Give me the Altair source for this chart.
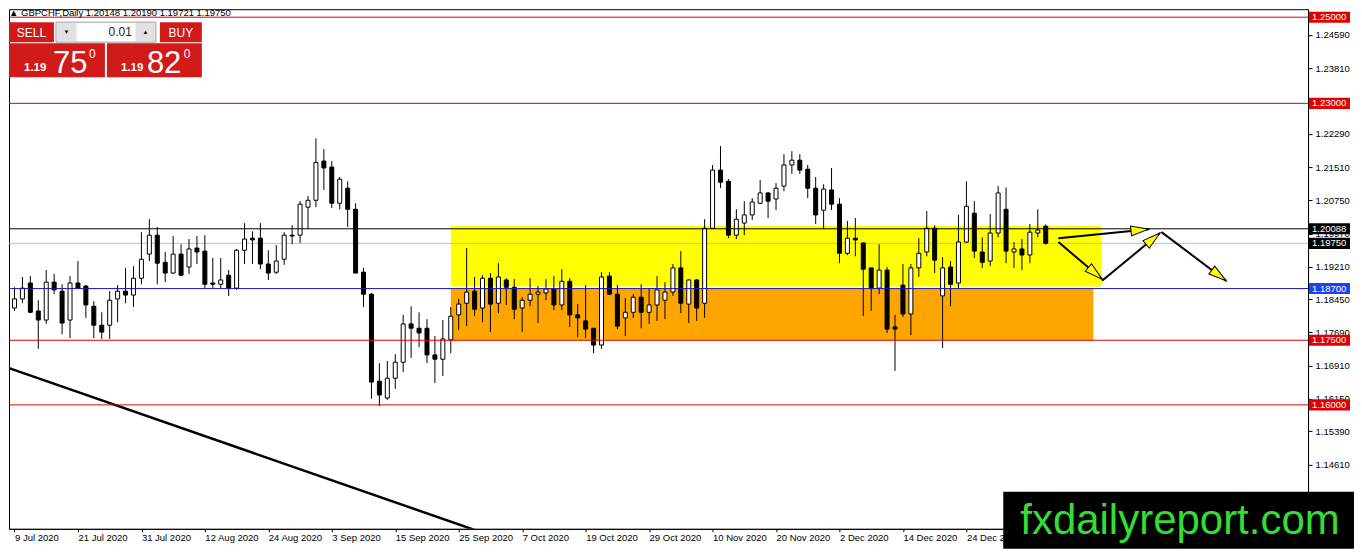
import math
import numpy as np
import pandas as pd
import altair as alt

# ── data ─────────────────────────────────────────────────────────────────────

opens = [
    1.1825, 1.1846, 1.1883, 1.1818, 1.1797, 1.1885, 1.1864, 1.1797, 1.1883, 1.1876,
    1.1829, 1.1785, 1.1785, 1.1846, 1.1864, 1.1855, 1.1894, 1.1950, 1.1994, 1.1931,
    1.1906, 1.1950, 1.1920, 1.1964, 1.1957, 1.1883, 1.1880, 1.1901, 1.1871, 1.1959,
    1.1987, 1.1987, 1.1927, 1.1908, 1.1938, 1.1994, 1.1994, 1.2059, 1.2075, 1.2166,
    1.2152, 1.2068, 1.2103, 1.2054, 1.1908, 1.1857, 1.1655, 1.1616, 1.1662, 1.1699,
    1.1788, 1.1778, 1.1778, 1.1716, 1.1706, 1.1751, 1.1809, 1.1836, 1.1864, 1.1825,
    1.1894, 1.1836, 1.1890, 1.1873, 1.1825, 1.1843, 1.1857, 1.1860, 1.1869, 1.1832,
    1.1887, 1.1809, 1.1795, 1.1778, 1.1739, 1.1899, 1.1857, 1.1802, 1.1815, 1.1850,
    1.1815, 1.1832, 1.1843, 1.1862, 1.1918, 1.1834, 1.1890, 1.1836, 1.2010, 1.2145,
    1.2119, 1.1994, 1.2022, 1.2041, 1.2068, 1.2092, 1.2078, 1.2108, 1.2157, 1.2168,
    1.2147, 1.2103, 1.2052, 1.2099, 1.2066, 1.1952, 1.1987, 1.1976, 1.1918, 1.1871,
    1.1913, 1.1781, 1.1878, 1.1811, 1.1918, 1.1955, 1.2010, 1.1853, 1.1920, 1.1883,
    1.1978, 1.2045, 1.1955, 1.1934, 1.1999, 1.2054, 1.1955, 1.1962, 1.1948, 1.1999,
    1.20148,
]
highs = [
    1.1873, 1.1897, 1.1899, 1.1843, 1.1913, 1.1904, 1.1880, 1.1899, 1.1934, 1.1878,
    1.1841, 1.1815, 1.1864, 1.1878, 1.1918, 1.1922, 1.2001, 1.2031, 1.2013, 1.1955,
    1.1992, 1.1973, 1.1985, 1.1992, 1.1994, 1.1941, 1.1941, 1.1913, 1.1962, 1.2022,
    1.2003, 1.2022, 1.1959, 1.1971, 1.2001, 1.2017, 1.2073, 1.2085, 1.2219, 1.2194,
    1.2166, 1.2129, 1.2119, 1.2068, 1.1918, 1.1860, 1.1697, 1.1702, 1.1718, 1.1809,
    1.1829, 1.1815, 1.1799, 1.1760, 1.1797, 1.1827, 1.1846, 1.1964, 1.1897, 1.1901,
    1.1906, 1.1929, 1.1894, 1.1892, 1.1850, 1.1894, 1.1876, 1.1892, 1.1899, 1.1915,
    1.1894, 1.1834, 1.1878, 1.1778, 1.1908, 1.1908, 1.1878, 1.1848, 1.1857, 1.1880,
    1.1869, 1.1899, 1.1885, 1.1927, 1.1957, 1.1892, 1.1892, 1.2031, 1.2157, 1.2201,
    1.2124, 1.2054, 1.2073, 1.2080, 1.2122, 1.2094, 1.2115, 1.2182, 1.2189, 1.2182,
    1.2157, 1.2129, 1.2112, 1.2150, 1.2080, 1.2027, 1.2034, 1.1976, 1.1918, 1.1973,
    1.1920, 1.1809, 1.1927, 1.1927, 1.1987, 1.2050, 1.2017, 1.1943, 1.1934, 1.2041,
    1.2119, 1.2073, 1.1989, 1.2043, 1.2108, 1.2105, 1.1978, 1.1985, 1.2020, 1.2054,
    1.20190,
]
lows = [
    1.1818, 1.1836, 1.1813, 1.1730, 1.1788, 1.1857, 1.1764, 1.1755, 1.1871, 1.1802,
    1.1755, 1.1753, 1.1753, 1.1792, 1.1836, 1.1827, 1.1880, 1.1934, 1.1880, 1.1885,
    1.1904, 1.1899, 1.1904, 1.1927, 1.1871, 1.1871, 1.1871, 1.1853, 1.1867, 1.1927,
    1.1927, 1.1915, 1.1890, 1.1904, 1.1925, 1.1973, 1.1976, 1.2008, 1.2059, 1.2099,
    1.2057, 1.2054, 1.2013, 1.1906, 1.1827, 1.1614, 1.1597, 1.1611, 1.1637, 1.1676,
    1.1709, 1.1734, 1.1697, 1.1651, 1.1667, 1.1720, 1.1774, 1.1783, 1.1806, 1.1792,
    1.1769, 1.1813, 1.1832, 1.1799, 1.1769, 1.1829, 1.1790, 1.1843, 1.1820, 1.1820,
    1.1781, 1.1757, 1.1755, 1.1720, 1.1730, 1.1855, 1.1776, 1.1760, 1.1802, 1.1778,
    1.1788, 1.1795, 1.1799, 1.1853, 1.1813, 1.1790, 1.1795, 1.1802, 1.2010, 1.2103,
    1.1987, 1.1985, 1.1994, 1.2029, 1.2066, 1.2034, 1.2052, 1.2096, 1.2136, 1.2136,
    1.2080, 1.2020, 1.2008, 1.2052, 1.1929, 1.1948, 1.1945, 1.1806, 1.1818, 1.1857,
    1.1767, 1.1679, 1.1804, 1.1762, 1.1897, 1.1945, 1.1906, 1.1732, 1.1829, 1.1871,
    1.1976, 1.1941, 1.1918, 1.1922, 1.1989, 1.1929, 1.1918, 1.1913, 1.1929, 1.1989,
    1.19721,
]
closes = [
    1.1846, 1.1871, 1.1815, 1.1797, 1.1885, 1.1867, 1.1790, 1.1883, 1.1871, 1.1832,
    1.1785, 1.1769, 1.1843, 1.1864, 1.1855, 1.1894, 1.1938, 1.1994, 1.1929, 1.1906,
    1.1950, 1.1901, 1.1962, 1.1955, 1.1880, 1.1880, 1.1890, 1.1871, 1.1959, 1.1985,
    1.1983, 1.1927, 1.1906, 1.1934, 1.1994, 1.1992, 1.2066, 1.2075, 1.2163, 1.2150,
    1.2068, 1.2124, 1.2054, 1.1906, 1.1857, 1.1653, 1.1623, 1.1662, 1.1699, 1.1788,
    1.1778, 1.1767, 1.1716, 1.1706, 1.1753, 1.1806, 1.1834, 1.1862, 1.1822, 1.1894,
    1.1834, 1.1897, 1.1873, 1.1822, 1.1843, 1.1857, 1.1862, 1.1869, 1.1832, 1.1887,
    1.1809, 1.1802, 1.1776, 1.1739, 1.1897, 1.1857, 1.1783, 1.1815, 1.1850, 1.1815,
    1.1832, 1.1867, 1.1862, 1.1918, 1.1836, 1.1890, 1.1825, 1.2010, 1.2145, 1.2117,
    1.1994, 1.2031, 1.2041, 1.2071, 1.2092, 1.2073, 1.2103, 1.2157, 1.2168, 1.2145,
    1.2103, 1.2041, 1.2101, 1.2066, 1.1952, 1.1987, 1.1983, 1.1915, 1.1871, 1.1913,
    1.1776, 1.1776, 1.1811, 1.1918, 1.1952, 1.2010, 1.1936, 1.1918, 1.1880, 1.1978,
    1.2061, 1.1957, 1.1931, 1.1999, 1.2092, 1.1957, 1.1962, 1.1948, 1.2001, 1.2006,
    1.19750,
]

date_labels = [
    "9 Jul 2020", "21 Jul 2020", "31 Jul 2020", "12 Aug 2020", "24 Aug 2020",
    "3 Sep 2020", "15 Sep 2020", "25 Sep 2020", "7 Oct 2020", "19 Oct 2020",
    "29 Oct 2020", "10 Nov 2020", "20 Nov 2020", "2 Dec 2020", "14 Dec 2020",
    "24 Dec 2020",
]
LABEL_EVERY = 8  # one date label every 8 bars

price_ticks = [1.2459, 1.2381, 1.2229, 1.2151, 1.2075, 1.1997, 1.1921,
               1.1845, 1.1769, 1.1691, 1.1615, 1.1539, 1.1461]

red_levels = [1.25, 1.23, 1.175, 1.16]
blue_level = 1.187
black_level = 1.20088
bid_level = 1.1975

# zones: [first bar, last bar, top price, bottom price]
yellow_zone = [55, 137, 1.2015, 1.1875]
orange_zone = [55, 136, 1.1870, 1.1750]

# trend line: [bar, price, bar, price]
trend_line = [-5, 1.1713, 65, 1.1265]

# forecast arrows (bar / price of tail and tip)
arrow_from_bar = [131.6, 131.6, 137.1, 144.6]
arrow_from_price = [1.1987, 1.1978, 1.1888, 1.2001]
arrow_to_bar = [143.0, 137.1, 144.4, 152.75]
arrow_to_price = [1.2008, 1.1892, 1.1999, 1.1888]

# ── layout ───────────────────────────────────────────────────────────────────

W, H = 1300, 520
BAR_PX = 8
PRICE_PX = 4311
X_LO = -0.0625
X_HI = X_LO + W / BAR_PX
Y_TOP = 1.25 + 8 / PRICE_PX
Y_BOT = Y_TOP - H / PRICE_PX

RED = "#E00000"
BLUE_LINE = "#1515B0"
BLUE_BOX = "#2040F0"
PANEL_RED = "#D11A1A"
FONT = "Liberation Sans"

x_scale = alt.Scale(domain=[X_LO, X_HI], nice=False, zero=False)
y_scale = alt.Scale(domain=[Y_BOT, Y_TOP], nice=False, zero=False)

label_js = "[" + ",".join(f"'{d}'" for d in date_labels) + "]"
x_axis = alt.Axis(
    values=[i * LABEL_EVERY for i in range(len(date_labels))],
    labelExpr=f"{label_js}[round(datum.value / {LABEL_EVERY})]",
    labelAlign="left", labelBaseline="top", labelPadding=1,
    labelFont=FONT, labelFontSize=9.5, labelColor="black",
    labelFlush=False, labelOverlap=False,
    tickSize=3, tickColor="black", domainColor="black",
    grid=False, title=None,
)
y_axis = alt.Axis(
    orient="right", values=price_ticks, format=".5f",
    labelFont=FONT, labelFontSize=9.5, labelColor="black", labelPadding=3,
    tickSize=4, tickColor="black", domainColor="black",
    grid=False, title=None,
)


def X(field):
    return alt.X(field, scale=x_scale, axis=x_axis)


def Y(field):
    return alt.Y(field, scale=y_scale, axis=y_axis)


# ── candles ──────────────────────────────────────────────────────────────────

candles = pd.DataFrame({
    "bar": range(len(opens)),
    "open": opens, "high": highs, "low": lows, "close": closes,
})
candles["body"] = np.where(candles["close"] >= candles["open"], "white", "black")

wicks = alt.Chart(candles).mark_rule(color="black", strokeWidth=1, clip=True).encode(
    x=X("bar:Q"), y=Y("low:Q"), y2="high:Q",
)
bodies = alt.Chart(candles).mark_bar(size=4, stroke="black", strokeWidth=1, clip=True).encode(
    x=X("bar:Q"), y=Y("open:Q"), y2="close:Q",
    fill=alt.Fill("body:N", scale=None),
)

# ── zones, levels, trend line ────────────────────────────────────────────────

zones_df = pd.DataFrame({
    "x0": [yellow_zone[0], orange_zone[0]],
    "x1": [yellow_zone[1], orange_zone[1]],
    "top": [yellow_zone[2], orange_zone[2]],
    "bottom": [yellow_zone[3], orange_zone[3]],
    "fill": ["#FFFF00", "#FFA500"],
})
zones = alt.Chart(zones_df).mark_rect().encode(
    x=X("x0:Q"), x2="x1:Q", y=Y("top:Q"), y2="bottom:Q",
    fill=alt.Fill("fill:N", scale=None),
)

levels_df = pd.DataFrame({
    "price": red_levels + [blue_level, black_level],
    "line": [RED] * len(red_levels) + [BLUE_LINE, "black"],
    "box": [RED] * len(red_levels) + [BLUE_BOX, "black"],
})
bid_df = pd.DataFrame({"price": [bid_level]})

bid_line = alt.Chart(bid_df).mark_rule(color="#C0C0C0", strokeWidth=1).encode(
    y=Y("price:Q"),
)
level_lines = alt.Chart(levels_df).mark_rule(strokeWidth=1).encode(
    y=Y("price:Q"),
    color=alt.Color("line:N", scale=None, legend=None),
)

trend_df = pd.DataFrame({
    "x0": [trend_line[0]], "p0": [trend_line[1]],
    "x1": [trend_line[2]], "p1": [trend_line[3]],
})
trend = alt.Chart(trend_df).mark_rule(color="black", strokeWidth=2.5, clip=True).encode(
    x=X("x0:Q"), x2="x1:Q", y=Y("p0:Q"), y2="p1:Q",
)

# ── arrows ───────────────────────────────────────────────────────────────────

HEAD_LEN = 18
rows = []
for xb0, p0, xb1, p1 in zip(arrow_from_bar, arrow_from_price, arrow_to_bar, arrow_to_price):
    dx = (xb1 - xb0) * BAR_PX
    dy = -(p1 - p0) * PRICE_PX
    length = math.hypot(dx, dy)
    ux, uy = dx / length, dy / length
    rows.append({
        "x0": xb0, "p0": p0, "x1": xb1, "p1": p1,
        "hx": xb1 - (HEAD_LEN / 2) * ux / BAR_PX,
        "hp": p1 + (HEAD_LEN / 2) * uy / PRICE_PX,
        "ang": math.degrees(math.atan2(ux, -uy)) % 360,
    })
arrows_df = pd.DataFrame(rows)

arrow_lines = alt.Chart(arrows_df).mark_rule(color="black", strokeWidth=2).encode(
    x=X("x0:Q"), x2="x1:Q", y=Y("p0:Q"), y2="p1:Q",
)
arrow_heads = alt.Chart(arrows_df).mark_point(
    shape="M0,-1L0.55,1L-0.55,1Z", size=HEAD_LEN ** 2, filled=True,
    fill="#FFFF00", stroke="black", strokeWidth=1, opacity=1,
).encode(
    x=X("hx:Q"), y=Y("hp:Q"),
    angle=alt.Angle("ang:Q", scale=None),
)

# ── price tags on the right axis ─────────────────────────────────────────────

tags_df = pd.concat([
    levels_df[["price", "box"]],
    pd.DataFrame({"price": [bid_level], "box": ["black"]}),
], ignore_index=True)
tags_df["text"] = tags_df["price"].map(lambda p: f"{p:.5f}")

tag_boxes = alt.Chart(tags_df).mark_point(
    shape="M-1,-0.27L1,-0.27L1,0.27L-1,0.27Z", size=41 ** 2,
    filled=True, strokeWidth=0, opacity=1,
).encode(
    x=alt.value(W + 21.5),
    y=Y("price:Q"),
    fill=alt.Fill("box:N", scale=None),
)
tag_text = alt.Chart(tags_df).mark_text(
    align="left", baseline="middle", font=FONT, fontSize=9.5, color="white",
).encode(
    x=alt.value(W + 4),
    y=Y("price:Q"),
    text="text:N",
)

# ── trading panel, header and watermark (screen furniture) ───────────────────

one = pd.DataFrame({"k": [0]})


def box(x0, y0, x1, y1, fill, stroke=None):
    kw = {"fill": fill}
    if stroke:
        kw.update(stroke=stroke, strokeWidth=1)
    return alt.Chart(one).mark_rect(**kw).encode(
        x=alt.value(x0), x2=alt.value(x1), y=alt.value(y0), y2=alt.value(y1),
    )


def label(x, y, s, size, color="white", align="left", weight="normal",
          font=FONT, baseline="alphabetic"):
    return alt.Chart(one).mark_text(
        text=s, fontSize=size, color=color, align=align, fontWeight=weight,
        font=font, baseline=baseline,
    ).encode(x=alt.value(x), y=alt.value(y))


header_text = (f"\u25B2 GBPCHF,Daily  {opens[-1]:.5f} {highs[-1]:.5f} "
               f"{lows[-1]:.5f} {closes[-1]:.5f}")

furniture = [
    label(0, 7, header_text, 9.5, color="black"),
    box(0, 13, 45, 33, PANEL_RED),
    box(151, 13, 193, 33, PANEL_RED),
    box(0, 34, 96, 68, PANEL_RED),
    box(98, 34, 193, 68, PANEL_RED),
    box(47, 13, 147, 33, "#F0F0F0", "#A0A0A0"),
    box(48, 14, 67, 32, "#E1E1E1"),
    box(68, 14, 126, 32, "white"),
    box(127, 14, 146, 32, "#E1E1E1"),
    label(57.5, 23, "\u25BC", 6, color="black", align="center", baseline="middle"),
    label(136.5, 23, "\u25B2", 6, color="black", align="center", baseline="middle"),
    label(123, 27, "0.01", 12, color="#202020", align="right"),
    label(22.5, 27.5, "SELL", 12, align="center"),
    label(172, 27.5, "BUY", 12, align="center"),
    label(15, 62, "1.19", 11.5, weight="bold"),
    label(44, 64, "75", 31),
    label(80, 49, "0", 12),
    label(112, 62, "1.19", 11.5, weight="bold"),
    label(138, 64, "82", 31),
    label(175, 49, "0", 12),
    box(995, 483, 1346, 540, "black"),
    label(1012, 525, "fxdailyreport.com", 42, color="#33DD33"),
]

chart = alt.layer(
    zones, bid_line, trend, wicks, bodies, level_lines,
    arrow_lines, arrow_heads, tag_boxes, tag_text, *furniture,
).properties(
    width=W, height=H, padding=0, background="white",
).configure_view(stroke="black", strokeWidth=1)

chart.save("out.html", embed_options={"renderer": "svg", "actions": False})
